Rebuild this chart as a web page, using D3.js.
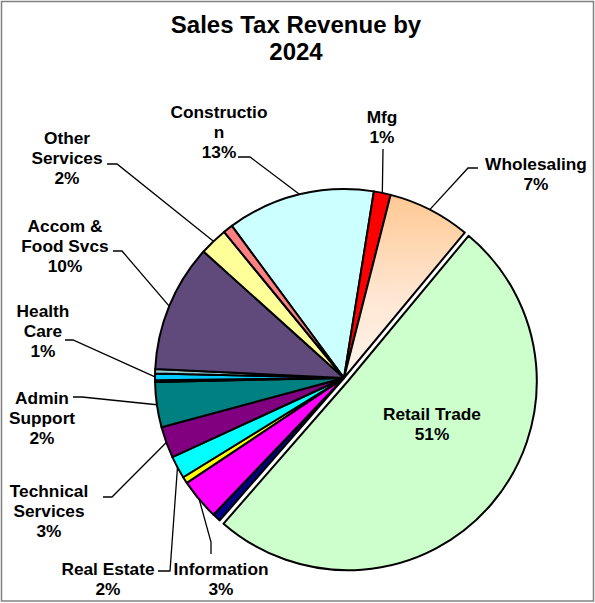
<!DOCTYPE html>
<html>
<head>
<meta charset="utf-8">
<script src="https://cdn.jsdelivr.net/npm/d3@7"></script>
<style>
  html, body { margin: 0; padding: 0; background: #fff; }
  svg { display: block; }
  text { font-family: "Liberation Sans", Arial, sans-serif; font-weight: bold; fill: #000; }
</style>
</head>
<body>
<svg id="chart" width="595" height="603"></svg>
<script>
// ---- data ----
const categories = ["Construction", "Mfg", "Wholesaling", "Retail Trade", "Transportation",
  "Information", "Finance", "Real Estate", "Technical Services", "Admin Support",
  "Education", "Health Care", "Arts", "Accom & Food Svcs", "Other Services", "Public Admin"];
const values = [12.64, 1.44, 7.06, 50.39, 0.72, 3.5, 0.56, 1.92, 2.69, 3.86,
  0.14, 0.58, 0.36, 10.92, 2.39, 0.83];
const labelText = [["Constructio", "n"], ["Mfg"], ["Wholesaling"], ["Retail Trade"], null,
  ["Information"], null, ["Real Estate"], ["Technical", "Services"], ["Admin", "Support"],
  null, ["Health", "Care"], null, ["Accom &", "Food Svcs"], ["Other", "Services"], null];
const labelPct = ["13%", "1%", "7%", "51%", null, "3%", null, "2%", "3%", "2%",
  null, "1%", null, "10%", "2%", null];
const title = ["Sales Tax Revenue by", "2024"];

// ---- styles ----
const colors = ["#CCFFFF", "#FF0000", "url(#gradWhole)", "#CCFFCC", "#000080",
  "#FF00FF", "#FFFF00", "#00FFFF", "#800080", "#008080",
  "#3333CC", "#00CCFF", "#99CCCC", "#604A7B", "#FFFF99", "#FF8080"];
const exploded = { "Retail Trade": 5 };

// label layout: x center, first baseline, leader tick points
const layout = {
  "Construction": { x: 219, y: 118, tick: [[238, 157], [250, 157]] },
  "Mfg": { x: 382, y: 123, tick: [[383, 149], [383, 150]] },
  "Wholesaling": { x: 536, y: 170, tick: [[478, 168], [468, 168]] },
  "Retail Trade": { x: 432, y: 420, tick: null },
  "Information": { x: 221, y: 575, tick: [[211, 554], [211, 542]] },
  "Real Estate": { x: 108, y: 575, tick: [[158, 571], [170, 571]] },
  "Technical Services": { x: 49, y: 497, tick: [[103, 497], [112, 497]] },
  "Admin Support": { x: 42, y: 404, tick: [[73, 397], [82, 397]] },
  "Health Care": { x: 43, y: 317, tick: [[65, 340], [73, 340]] },
  "Accom & Food Svcs": { x: 65, y: 232, tick: [[113, 251], [122, 251]] },
  "Other Services": { x: 67, y: 144, tick: [[107, 164], [117, 164]] }
};

const W = 595, H = 603;
const cx = 344, cy = 378, R = 189;
const lineH = 19.8;

const svg = d3.select("#chart");

// gradient for wholesaling
const defs = svg.append("defs");
const g1 = defs.append("linearGradient").attr("id", "gradWhole")
  .attr("x1", 0).attr("y1", 0).attr("x2", 0).attr("y2", 1);
g1.append("stop").attr("offset", "0%").attr("stop-color", "#FFC893");
g1.append("stop").attr("offset", "55%").attr("stop-color", "#FFE6D2");
g1.append("stop").attr("offset", "100%").attr("stop-color", "#FFF4EC");

// frame
svg.append("rect").attr("x", 1.5).attr("y", 1.5).attr("width", W - 3).attr("height", H - 3.5)
  .attr("fill", "#fff").attr("stroke", "#808080").attr("stroke-width", 1.5);

// title
svg.append("text").attr("x", 296).attr("text-anchor", "middle")
  .style("font-size", "24px")
  .selectAll("tspan").data(title).join("tspan")
  .attr("x", 296).attr("y", (d, i) => 33 + i * 27).text(d => d);

const data = categories.map((c, i) => ({ name: c, value: values[i], i }));
const startA = -36.4 * Math.PI / 180;
const pie = d3.pie().sort(null).value(d => d.value)
  .startAngle(startA).endAngle(startA + 2 * Math.PI);
const arcs = pie(data);
const arc = d3.arc().innerRadius(0).outerRadius(R);

const pieG = svg.append("g").attr("transform", `translate(${cx},${cy})`);
pieG.selectAll("path").data(arcs).join("path")
  .attr("transform", d => {
    const off = exploded[d.data.name] || 0;
    const m = (d.startAngle + d.endAngle) / 2;
    return `translate(${off * Math.sin(m)},${-off * Math.cos(m)})`;
  })
  .attr("d", arc)
  .attr("fill", d => colors[d.data.i])
  .attr("stroke", "#000")
  .attr("stroke-width", 2)
  .attr("stroke-linejoin", "round");

// leader lines and labels
const labG = svg.append("g");
arcs.forEach(d => {
  const i = d.data.i;
  if (!labelText[i]) return;
  const L = layout[d.data.name];
  if (L.tick) {
    const m = (d.startAngle + d.endAngle) / 2;
    const p = [cx + R * Math.sin(m), cy - R * Math.cos(m)];
    const pts = [L.tick[0], L.tick[1], p];
    labG.append("path")
      .attr("d", d3.line()(pts))
      .attr("fill", "none").attr("stroke", "#000").attr("stroke-width", 1.3);
  }
  const lines = labelText[i].concat([labelPct[i]]);
  labG.append("text").attr("text-anchor", "middle").style("font-size", "17.3px")
    .selectAll("tspan").data(lines).join("tspan")
    .attr("x", L.x).attr("y", (t, k) => L.y + k * lineH).text(t => t);
});
</script>
</body>
</html>
